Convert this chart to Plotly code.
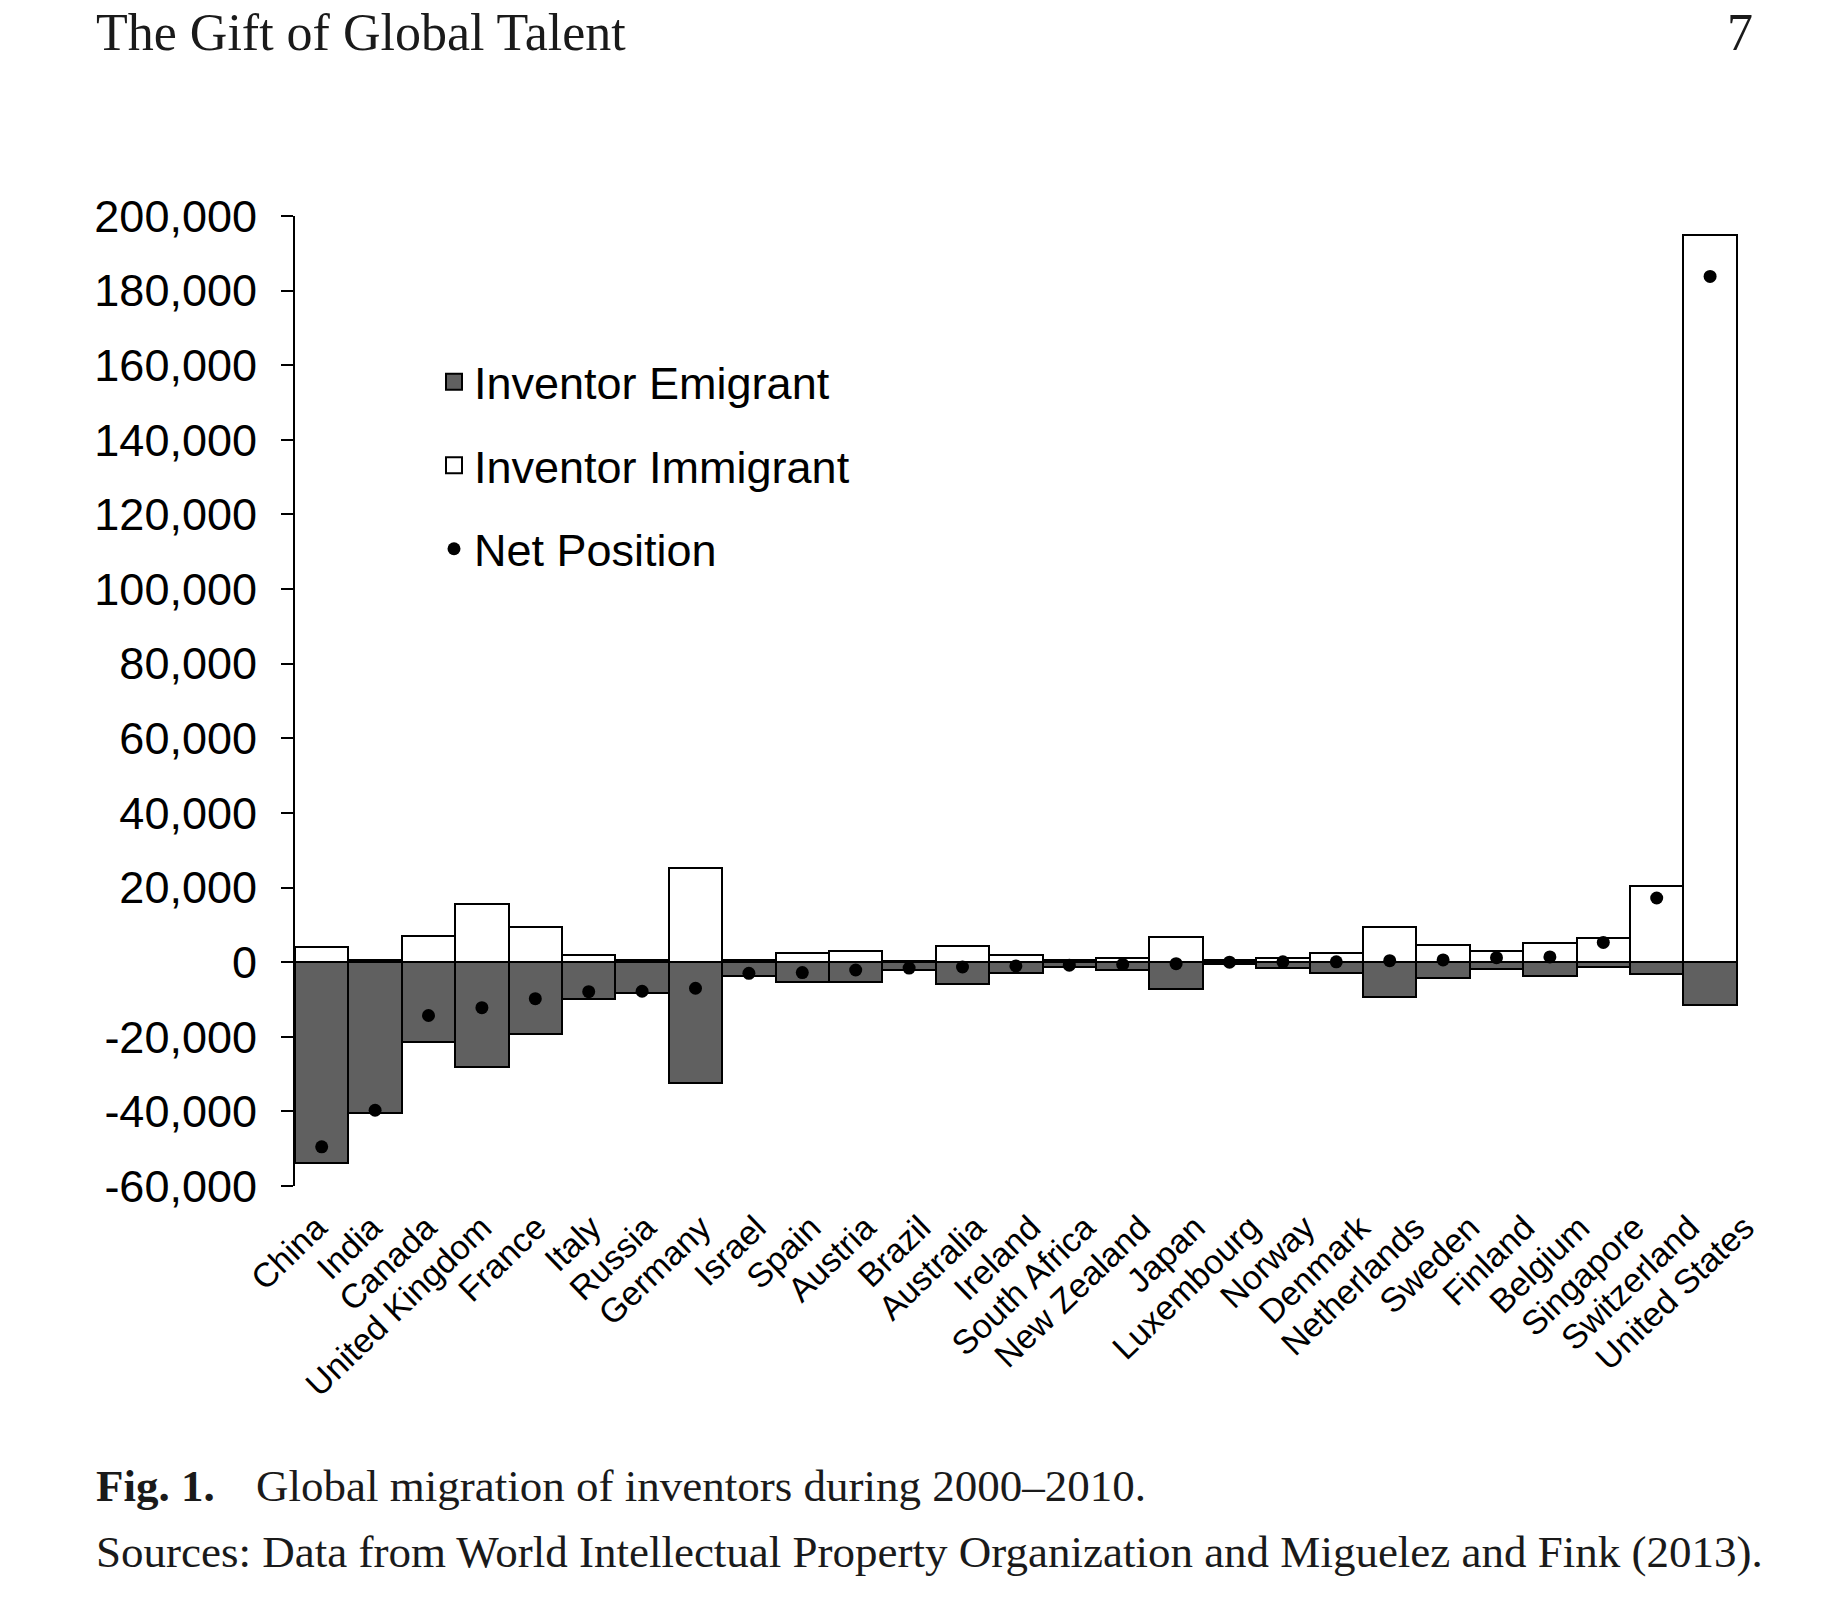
import plotly.graph_objects as go

# ---------------- data ----------------
countries = ["China", "India", "Canada", "United Kingdom", "France", "Italy", "Russia",
             "Germany", "Israel", "Spain", "Austria", "Brazil", "Australia", "Ireland",
             "South Africa", "New Zealand", "Japan", "Luxembourg", "Norway", "Denmark",
             "Netherlands", "Sweden", "Finland", "Belgium", "Singapore", "Switzerland",
             "United States"]

emigrant = [-53700, -40300, -21400, -28000, -19300, -10000, -8300, -32300, -3700, -5400,
            -5400, -2000, -5900, -2800, -1300, -2000, -7100, -400, -1500, -2800,
            -9300, -4300, -1800, -3800, -1300, -3300, -11500]

immigrant = [4000, 500, 6900, 15600, 9300, 1800, 500, 25200, 600, 2400,
             2900, 300, 4400, 1800, 600, 1200, 6700, 500, 1200, 2500,
             9500, 4600, 3000, 5100, 6600, 20300, 195000]

net_position = [-49500, -39700, -14300, -12200, -9800, -7900, -7800, -7000, -3000, -2800,
                -2100, -1600, -1300, -1000, -800, -600, -400, 0, 100, 100,
                400, 600, 1200, 1400, 5300, 17200, 183800]

y_ticks = list(range(-60000, 200001, 20000))

# ---------------- layout geometry (page pixels) ----------------
W, H = 1838, 1600
L, R, T, B = 295, 48, 216, 414
PW, PH = W - L - R, H - T - B

BAR_PX = 53.4     # width of one category slot
LABEL_PX = 54.9   # spacing of the slanted category labels
LABEL0_PX = 317   # position of the first label anchor


def px(x):
    return (x - L) / PW


def py(y):
    return 1 - (y - T) / PH


n = len(countries)
x_hi = -0.5 + PW / BAR_PX
lab_r0 = -(LABEL0_PX - L) / LABEL_PX
lab_r1 = lab_r0 + PW / LABEL_PX

SANS = "Liberation Sans, Arial, sans-serif"
SERIF = "Liberation Serif, Times New Roman, serif"
DARK = "#606060"

fig = go.Figure()
fig.add_trace(go.Bar(
    x=countries, y=emigrant, name="Inventor Emigrant", showlegend=False,
    marker=dict(color=DARK, line=dict(color="black", width=2)),
))
fig.add_trace(go.Bar(
    x=countries, y=immigrant, name="Inventor Immigrant", showlegend=False,
    marker=dict(color="white", line=dict(color="black", width=2)),
))
# legend entries (larger square swatches, as in the reference)
fig.add_trace(go.Scatter(
    x=[None], y=[None], name="Inventor Emigrant", legendgroup="a", mode="markers",
    marker=dict(symbol="square", size=16, color=DARK, line=dict(color="black", width=2)),
))
fig.add_trace(go.Scatter(
    x=[None], y=[None], name="Inventor Immigrant", legendgroup="b", mode="markers",
    marker=dict(symbol="square", size=16, color="white", line=dict(color="black", width=2)),
))
fig.add_trace(go.Scatter(
    x=countries, y=net_position, name="Net Position", legendgroup="c", mode="markers",
    marker=dict(color="black", size=13, symbol="circle"),
))
# carrier for the category-label axis
fig.add_trace(go.Scatter(
    x=list(range(n)), y=[None] * n, xaxis="x2", showlegend=False, hoverinfo="skip",
    mode="markers",
))

fig.update_layout(
    width=W, height=H,
    margin=dict(l=L, r=R, t=T, b=B),
    paper_bgcolor="white", plot_bgcolor="rgba(0,0,0,0)",
    barmode="overlay", bargap=0,
    font=dict(family=SANS, color="black"),
    showlegend=True,
    legend=dict(
        x=px(434), y=py(346), xanchor="left", yanchor="top",
        font=dict(family=SANS, size=45, color="black"),
        bgcolor="rgba(0,0,0,0)", traceorder="grouped", tracegroupgap=22,
    ),
    xaxis=dict(
        type="category", range=[-0.5, x_hi],
        showline=False, showgrid=False, zeroline=False, ticks="",
        showticklabels=False,
    ),
    xaxis2=dict(
        overlaying="x", anchor="y", side="bottom",
        range=[lab_r0, lab_r1], tickvals=list(range(n)), ticktext=countries,
        showline=False, showgrid=False, zeroline=False, ticks="",
        tickangle=-44, ticklabelstandoff=14,
        tickfont=dict(family=SANS, size=34, color="black"),
    ),
    yaxis=dict(
        range=[-60000, 200000], tickvals=y_ticks,
        ticktext=[f"{v:,}" for v in y_ticks],
        showline=True, linecolor="black", linewidth=2,
        ticks="outside", ticklen=12, tickwidth=2, tickcolor="black",
        ticklabelstandoff=15,
        showgrid=False, zeroline=False,
        tickfont=dict(family=SANS, size=45, color="black"),
    ),
)

TXT = "#1a1a1a"
annos = [
    dict(text="The Gift of Global Talent", x=px(94), y=py(32), xanchor="left", yanchor="middle",
         font=dict(family=SERIF, size=52, color=TXT)),
    dict(text="7", x=px(1755), y=py(32), xanchor="right", yanchor="middle",
         font=dict(family=SERIF, size=52, color=TXT)),
    dict(text="<b>Fig. 1.</b>", x=px(94), y=py(1486), xanchor="left", yanchor="middle",
         font=dict(family=SERIF, size=45, color=TXT)),
    dict(text="Global migration of inventors during 2000–2010.", x=px(254), y=py(1486),
         xanchor="left", yanchor="middle", font=dict(family=SERIF, size=45, color=TXT)),
    dict(text="Sources: Data from World Intellectual Property Organization and Miguelez and Fink (2013).",
         x=px(94), y=py(1552), xanchor="left", yanchor="middle",
         font=dict(family=SERIF, size=45, color=TXT)),
]
for a in annos:
    fig.add_annotation(xref="paper", yref="paper", showarrow=False, **a)

fig.write_html("out.html", config={"displayModeBar": False},
               post_script="document.body.style.margin='0';")
